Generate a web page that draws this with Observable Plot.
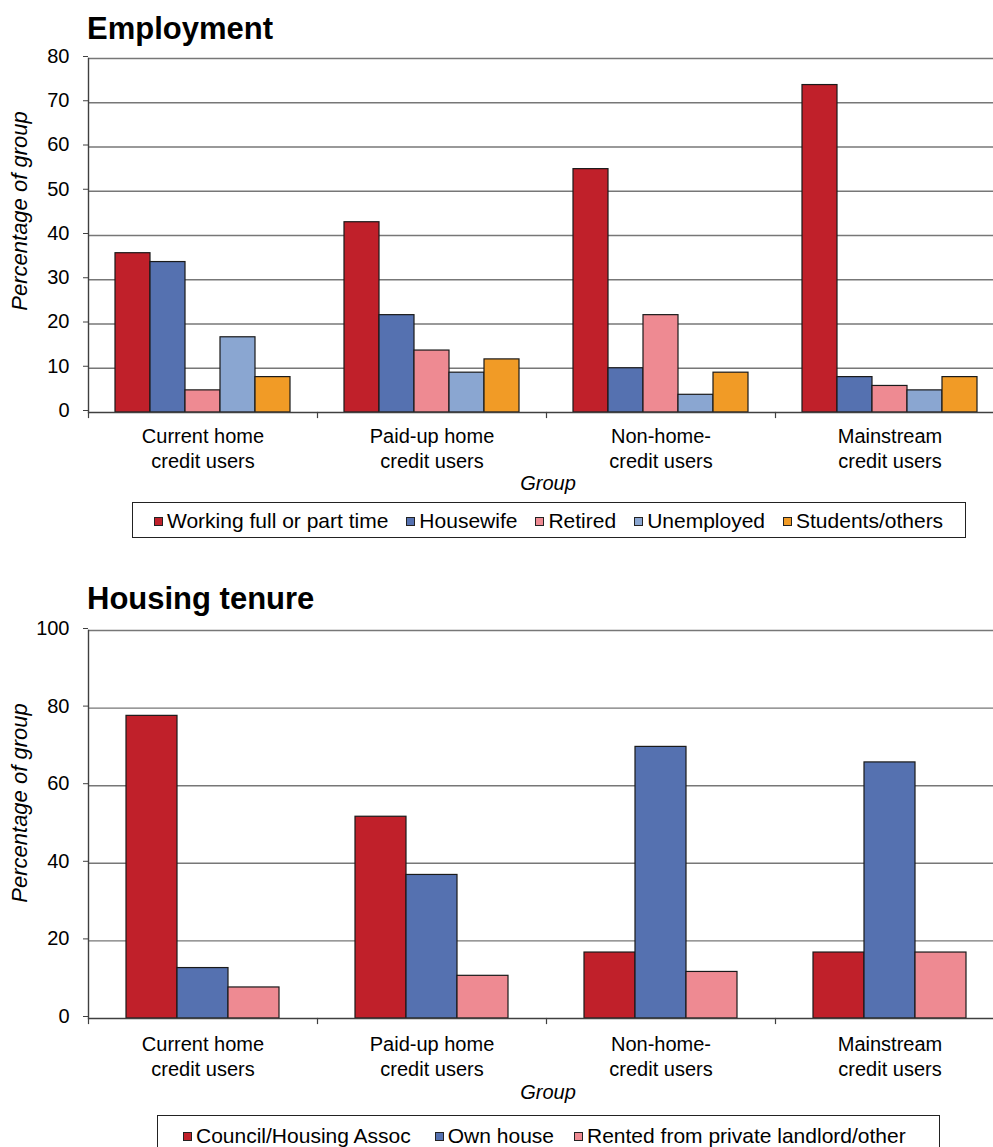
<!DOCTYPE html>
<html><head><meta charset="utf-8">
<script src="https://cdn.jsdelivr.net/npm/d3@7"></script>
<script src="https://cdn.jsdelivr.net/npm/@observablehq/plot@0.6"></script>
<style>
body{margin:0;background:#fff;font-family:"Liberation Sans",Arial,sans-serif;}
#root{position:relative;width:993px;height:1147px;overflow:hidden;background:#fff;}
.abs{position:absolute;white-space:nowrap;color:#000;line-height:1;}
.title{font-weight:bold;font-size:31px;}
.lab{font-size:20px;}
.leg{font-size:21px;}
.it{font-style:italic;}
.ylab{font-style:italic;font-size:22px;transform:translate(-50%,-50%) rotate(-90deg);}
.box{position:absolute;border:1.5px solid #222;box-sizing:border-box;}
.sq{position:absolute;width:9px;height:9px;box-sizing:border-box;border:1px solid #222;}
.legrow{position:absolute;display:flex;align-items:center;white-space:nowrap;font-size:21px;line-height:1;}
.legrow .it2{display:flex;align-items:center;}
.legrow .s{width:9px;height:9px;box-sizing:border-box;border:1px solid #222;margin-right:4px;margin-top:1px;}
.svgwrap{position:absolute;left:0;}
</style></head>
<body><div id="root"></div>
<script>
// ---- data ----
const groups = ["Current home\ncredit users", "Paid-up home\ncredit users", "Non-home-\ncredit users", "Mainstream\ncredit users"];

const empSeries = ["Working full or part time", "Housewife", "Retired", "Unemployed", "Students/others"];
const empWorking = [36, 43, 55, 74];
const empHousewife = [34, 22, 10, 8];
const empRetired = [5, 14, 22, 6];
const empUnemployed = [17, 9, 4, 5];
const empStudents = [8, 12, 9, 8];
const empTicks = [0, 10, 20, 30, 40, 50, 60, 70, 80];

const houseSeries = ["Council/Housing Assoc", "Own house", "Rented from private landlord/other"];
const houseCouncil = [78, 52, 17, 17];
const houseOwn = [13, 37, 70, 66];
const houseRented = [8, 11, 12, 17];
const houseTicks = [0, 20, 40, 60, 80, 100];

const empColors = ["#C0202A", "#5571B0", "#EE8A92", "#8AA6D1", "#F19B26"];
const houseColors = ["#C0202A", "#5571B0", "#EE8A92"];

const root = document.getElementById("root");

function tidy(series, arrays) {
  const out = [];
  groups.forEach((g, i) => series.forEach((s, j) => out.push({group: g, series: s, value: arrays[j][i]})));
  return out;
}

function chart({series, arrays, colors, ticks, height, marginTop, marginBottom, paddingOuter, tickPadding}) {
  const data = tidy(series, arrays);
  const plotH = height - marginTop - marginBottom;
  return Plot.plot({
    width: 993, height, marginLeft: 88, marginRight: -11, marginTop, marginBottom,
    style: {fontFamily: "'Liberation Sans', Arial, sans-serif", fontSize: "20px", color: "#000", background: "transparent"},
    fx: {domain: groups, padding: 0, label: null},
    x: {domain: series, paddingInner: 0, paddingOuter, axis: null},
    y: {domain: [0, ticks[ticks.length - 1]]},
    color: {domain: series, range: colors},
    marks: [
      Plot.ruleY(ticks.filter(d => d > 0), {stroke: "#777", strokeWidth: 1.4}),
      Plot.barY(data, {fx: "group", x: "series", y: "value", fill: "series", stroke: "#1a1a1a", strokeWidth: 1.2}),
      Plot.ruleY([0], {stroke: "#404040", strokeWidth: 1.4}),
      Plot.frame({anchor: "left", fx: [groups[0]], stroke: "#404040", strokeWidth: 1.4}),
      Plot.frame({anchor: "left", insetTop: plotH, insetBottom: -5, stroke: "#404040", strokeWidth: 1.2}),
      Plot.axisY({ticks, tickSize: 5, tickPadding: 14, fontSize: 20, label: null, stroke: "#404040", dy: -2}),
      Plot.axisFx({anchor: "bottom", tickSize: 0, tickPadding, fontSize: 20, lineHeight: 1.25, label: null, tickFormat: d => d})
    ]
  });
}

function place(el, top) {
  const w = document.createElement("div");
  w.className = "svgwrap";
  w.style.top = top + "px";
  w.appendChild(el);
  root.appendChild(w);
}
function text(str, cls, left, top, center) {
  const d = document.createElement("div");
  d.className = "abs " + cls;
  d.textContent = str;
  d.style.left = left + "px";
  d.style.top = top + "px";
  if (center) d.style.transform = "translateX(-50%)";
  root.appendChild(d);
  return d;
}
function box(l, t, w, h) {
  const d = document.createElement("div");
  d.className = "box";
  Object.assign(d.style, {left: l + "px", top: t + "px", width: w + "px", height: h + "px"});
  root.appendChild(d);
}
function legendRow(series, colors, left, top, gaps) {
  const row = document.createElement("div");
  row.className = "legrow";
  Object.assign(row.style, {left: left + "px", top: top + "px"});
  series.forEach((s, i) => {
    const it = document.createElement("div");
    it.className = "it2";
    if (i > 0) it.style.marginLeft = gaps[i - 1] + "px";
    const sq = document.createElement("div");
    sq.className = "s";
    sq.style.background = colors[i];
    const t = document.createElement("span");
    t.textContent = s;
    it.appendChild(sq); it.appendChild(t);
    row.appendChild(it);
  });
  root.appendChild(row);
}

// ---- Employment ----
text("Employment", "title", 87, 13);
place(chart({series: empSeries, arrays: [empWorking, empHousewife, empRetired, empUnemployed, empStudents],
  colors: empColors, ticks: empTicks, height: 430, marginTop: 13, marginBottom: 63, paddingOuter: 0.77, tickPadding: 13}), 45);
text("Percentage of group", "ylab", 20, 211);
text("Group", "lab it", 548, 473, true);
box(132, 502, 834, 36);
legendRow(empSeries, empColors, 154, 510, [18, 18, 18, 18]);

// ---- Housing tenure ----
text("Housing tenure", "title", 87, 583);
place(chart({series: houseSeries, arrays: [houseCouncil, houseOwn, houseRented],
  colors: houseColors, ticks: houseTicks, height: 470, marginTop: 15, marginBottom: 67, paddingOuter: 0.745, tickPadding: 15}), 615);
text("Percentage of group", "ylab", 20, 803);
text("Group", "lab it", 548, 1082, true);
box(157, 1115, 783, 40);
legendRow(houseSeries, houseColors, 183, 1125, [24, 20]);
</script>
</body></html>
